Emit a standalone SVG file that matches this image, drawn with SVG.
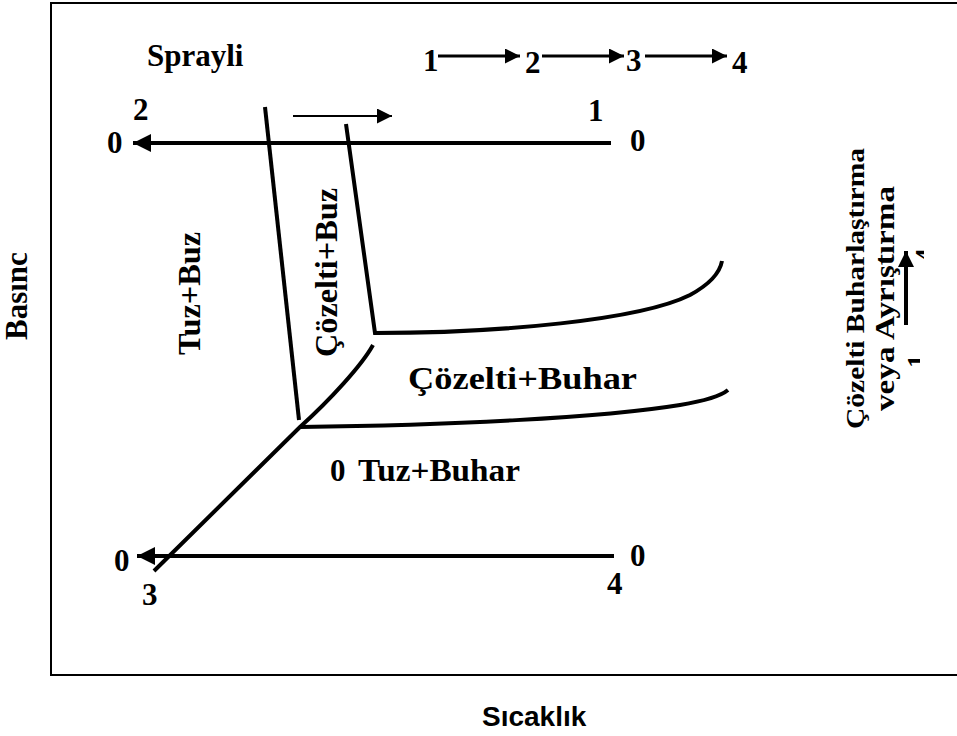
<svg xmlns="http://www.w3.org/2000/svg" width="957" height="736" viewBox="0 0 957 736">
<style>
.t{font-family:"Liberation Serif","Times New Roman",serif;font-weight:bold;font-size:31px;fill:#000}
.s{font-family:"Liberation Sans",Arial,sans-serif;font-weight:bold;font-size:28px;fill:#000}
.r1{font-family:"Liberation Serif","Times New Roman",serif;font-weight:bold;font-size:26px;fill:#000}
.r2{font-family:"Liberation Serif","Times New Roman",serif;font-weight:bold;font-size:27px;fill:#000}
.ln{fill:none;stroke:#000;stroke-width:4;stroke-linecap:butt}
.th{fill:none;stroke:#000;stroke-width:3}
.tn{fill:none;stroke:#000;stroke-width:2}
</style>
<defs>
<marker id="ah" viewBox="0 0 10 10" refX="10" refY="5" markerWidth="5" markerHeight="4.5" orient="auto" markerUnits="strokeWidth"><path d="M0,0 L10,5 L0,10 z" fill="#000"/></marker>
<marker id="ah2" viewBox="0 0 10 10" refX="10" refY="5" markerWidth="5.5" markerHeight="5" orient="auto" markerUnits="strokeWidth"><path d="M0,0 L10,5 L0,10 z" fill="#000"/></marker>
<marker id="ah4" viewBox="0 0 10 10" refX="10" refY="5" markerWidth="8" markerHeight="7.5" orient="auto" markerUnits="strokeWidth"><path d="M0,0 L10,5 L0,10 z" fill="#000"/></marker>
<marker id="ah3" viewBox="0 0 10 10" refX="10" refY="5" markerWidth="4.5" markerHeight="4" orient="auto" markerUnits="strokeWidth"><path d="M0,0 L10,5 L0,10 z" fill="#000"/></marker>
<clipPath id="clip1"><rect x="906" y="345" width="14" height="25"/></clipPath>
<clipPath id="clip4"><rect x="913" y="236" width="11" height="26"/></clipPath>
</defs>
<rect x="51" y="3" width="920" height="672" fill="none" stroke="#000" stroke-width="2"/>
<g id="connectors">
<line class="ln" x1="611" y1="143" x2="133" y2="143" marker-end="url(#ah)"/>
<line class="ln" x1="614" y1="556" x2="137" y2="556" marker-end="url(#ah)"/>
<line class="tn" x1="293" y1="116" x2="392" y2="116" marker-end="url(#ah4)"/>
<line class="th" x1="438" y1="56" x2="520" y2="56" marker-end="url(#ah2)"/>
<line class="th" x1="542" y1="56" x2="624" y2="56" marker-end="url(#ah2)"/>
<line class="th" x1="645" y1="56" x2="727" y2="56" marker-end="url(#ah2)"/>
<line class="ln" x1="265" y1="107" x2="299" y2="420"/>
<path class="ln" d="M346,124 L375,333 C500,333 640,320 690,295 C712,283 720,272 722,261"/>
<path class="ln" d="M300,427 C450,425 600,418 680,405 C710,400 722,395 728,390"/>
<path class="ln" d="M373,345 C362,365 330,400 300,427 L154,571"/>
<line class="ln" x1="906" y1="325" x2="906" y2="251" marker-end="url(#ah3)"/>
</g>
<g id="labels">
<text class="t" x="147" y="66">Sprayli</text>
<text class="t" x="423" y="71">1</text>
<text class="t" x="525" y="73">2</text>
<text class="t" x="626" y="71">3</text>
<text class="t" x="732" y="73">4</text>
<text class="t" x="133" y="120">2</text>
<text class="t" x="107" y="153">0</text>
<text class="t" x="588" y="121">1</text>
<text class="t" x="630" y="151">0</text>
<text class="t" x="114" y="571">0</text>
<text class="t" x="142" y="605">3</text>
<text class="t" x="630" y="566">0</text>
<text class="t" x="607" y="594">4</text>
<text class="t" x="330" y="481">0</text>
<text class="t" x="358" y="481" textLength="162" lengthAdjust="spacingAndGlyphs">Tuz+Buhar</text>
<text class="t" x="408" y="389" textLength="229" lengthAdjust="spacingAndGlyphs">Çözelti+Buhar</text>
<text class="t" transform="translate(200,355) rotate(-90)" textLength="123" lengthAdjust="spacingAndGlyphs">Tuz+Buz</text>
<text class="t" transform="translate(337,357) rotate(-90)" textLength="169" lengthAdjust="spacingAndGlyphs">Çözelti+Buz</text>
<text class="t" transform="translate(27,340) rotate(-90)">Basınc</text>
<text class="r1" transform="translate(864,429) rotate(-90)" textLength="281" lengthAdjust="spacingAndGlyphs">Çözelti Buharlaştırma</text>
<text class="r2" transform="translate(894,411) rotate(-90)" textLength="225" lengthAdjust="spacingAndGlyphs">veya Ayrıştırma</text>
<g clip-path="url(#clip1)"><text class="r2" transform="translate(926,368) rotate(-90)">1</text></g>
<g clip-path="url(#clip4)"><text class="r2" transform="translate(934,262) rotate(-90)">4</text></g>
<text class="s" x="482" y="726">Sıcaklık</text>
</g>
</svg>
